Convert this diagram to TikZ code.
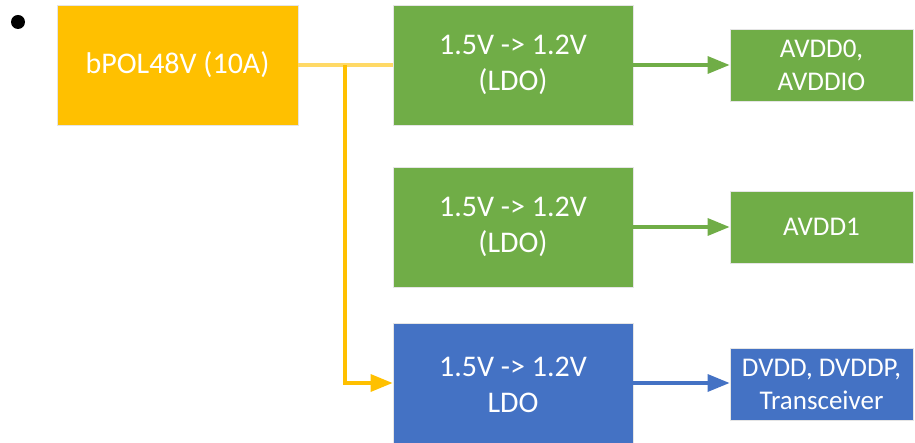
\documentclass[tikz,border=0pt]{standalone}
\usepackage{fontspec}
\setmainfont{Carlito}
\usetikzlibrary{arrows.meta,positioning}
\definecolor{polorange}{RGB}{255,192,0}
\definecolor{feedorange}{RGB}{255,217,102}
\definecolor{ldogreen}{RGB}{112,173,71}
\definecolor{ldoblue}{RGB}{68,114,196}

\begin{document}
\begin{tikzpicture}[x=1pt,y=-1pt,
  block/.style={draw=white!80!gray,line width=0.8pt,text=white,align=center,
                minimum width=240pt,minimum height=120pt,inner sep=0pt,
                font=\fontsize{30}{36}\selectfont},
  rail/.style={block,minimum width=183pt,minimum height=72pt,
               font=\fontsize{27}{33}\selectfont},
  feed/.style={draw=polorange,line width=3.4pt},
  arrow/.style={-{Triangle[length=22pt,width=17pt]},line width=3.4pt}
]
\useasboundingbox (0,0) rectangle (915,443);
\fill[black] (18,22) circle (7pt);
% sources and regulators
\node[block,fill=polorange,minimum width=241pt] (bpol) at (177.5,65) {bPOL48V (10A)};
\node[block,fill=ldogreen] (ldoA) at (513,65) {1.5V -> 1.2V\\(LDO)};
\node[block,fill=ldogreen] (ldoB) at (513,227) {1.5V -> 1.2V\\(LDO)};
\node[block,fill=ldoblue,minimum height=124pt] (ldoC) at (513,385) {1.5V -> 1.2V\\LDO};
% supply rails
\node[rail,fill=ldogreen] (avddA) at (821.5,65) {AVDD0,\\AVDDIO};
\node[rail,fill=ldogreen] (avddB) at (821.5,227) {AVDD1};
\node[rail,fill=ldoblue] (dvdd) at (821.5,384) {DVDD, DVDDP,\\Transceiver};
% connections
\coordinate (tap) at (345,65);
\draw[feed,draw=feedorange] (bpol.east) -- (ldoA.west);
\draw[feed,arrow] (tap) |- (ldoC.west |- 0,383);
\draw[arrow,draw=ldogreen] (ldoA.east) -- (avddA.west);
\draw[arrow,draw=ldogreen] (ldoB.east) -- (avddB.west);
\draw[arrow,draw=ldoblue] (ldoC.east |- 0,383) -- (dvdd.west |- 0,383);
\end{tikzpicture}
\end{document}
